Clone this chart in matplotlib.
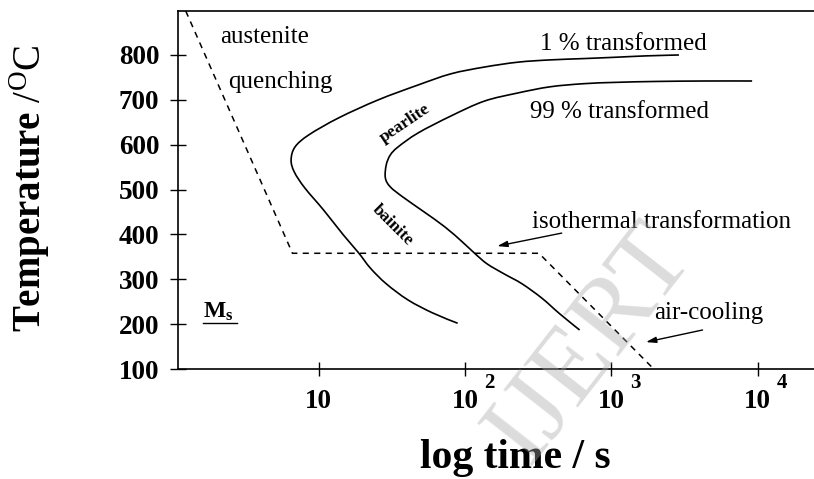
import matplotlib
matplotlib.use("Agg")
import matplotlib.pyplot as plt
import numpy as np
from matplotlib.path import Path
from matplotlib.patches import PathPatch

plt.rcParams["font.family"] = ["Liberation Serif", "DejaVu Serif"]
plt.rcParams["mathtext.fontset"] = "custom"
plt.rcParams["mathtext.rm"] = "Liberation Serif"
plt.rcParams["mathtext.bf"] = "Liberation Serif:bold"
plt.rcParams["mathtext.it"] = "Liberation Serif:italic"

# 1 % transformed curve (time in s, temperature in degC)
start_t = [89, 60, 40.7, 28.9, 22.5, 18.7, 14.7, 10.8, 8.0, 6.8, 6.46,
           6.87, 8.55, 13.7, 25.5, 47.6, 80, 135, 230, 380, 650, 1080,
           1730, 2900]
start_T = [202, 225, 254, 290, 325, 359, 399, 454, 504, 539, 566,
           595, 622, 660, 700, 733, 758, 773, 784, 789, 792, 795,
           798, 800]

# 99 % transformed curve
finish_t = [607, 444, 335, 245, 185, 142, 118, 96, 72.6, 51.5, 37.7,
            30.8, 28.5, 28.9, 30.8, 34.8, 47.6, 80, 135, 227, 380, 646,
            1081, 2018, 4400, 9180]
finish_T = [187, 223, 258, 290, 312, 334, 356, 383, 417, 452, 483,
            506, 526, 555, 577, 595, 626, 664, 697, 715, 729, 736,
            739, 741, 742, 742]

# quench -> isothermal hold -> air cooling path
path_t = [1.23, 6.6, 320, 1950]
path_T = [898, 358, 358, 100]

tick_t = [10, 100, 1000, 10000]
tick_exp = ["", "2", "3", "4"]
temp_ticks = [100, 200, 300, 400, 500, 600, 700, 800]


def smooth_curve(ax, t, T, **kw):
    """Draw a Catmull-Rom style bezier through the points (log-time space)."""
    x = np.log10(np.asarray(t, float))
    y = np.asarray(T, float) / 400.0  # rough aspect balance for tangents
    pts = np.column_stack([x, y])
    verts = [pts[0]]
    codes = [Path.MOVETO]
    n = len(pts)
    for i in range(n - 1):
        p0 = pts[max(i - 1, 0)]
        p1 = pts[i]
        p2 = pts[i + 1]
        p3 = pts[min(i + 2, n - 1)]
        c1 = p1 + (p2 - p0) / 6.0
        c2 = p2 - (p3 - p1) / 6.0
        verts += [c1, c2, p2]
        codes += [Path.CURVE4] * 3
    verts = np.array(verts)
    verts = np.column_stack([10 ** verts[:, 0], verts[:, 1] * 400.0])
    ax.add_patch(PathPatch(Path(verts, codes), fill=False,
                           transform=ax.transData, **kw))


fig = plt.figure(figsize=(8.14, 4.79), dpi=100)
ax = fig.add_axes([0.2187, 0.2296, 0.7813, 0.7474])
ax.set_xscale("log")
ax.set_xlim(10 ** 0.037, 10 ** 4.386)
ax.set_ylim(100, 898)

smooth_curve(ax, start_t, start_T, edgecolor="black", lw=1.2)
smooth_curve(ax, finish_t, finish_T, edgecolor="black", lw=1.2)
ax.plot(path_t, path_T, color="black", lw=1.1, ls=(0, (4, 3.5)))

for side in ["left", "bottom", "top"]:
    ax.spines[side].set_linewidth(1.2)
ax.spines["right"].set_visible(False)

ax.set_yticks(temp_ticks)
ax.set_yticklabels([str(v) for v in temp_ticks], fontweight="bold", fontsize=19.5)
ax.tick_params(axis="y", direction="inout", length=12.2, width=1.0, pad=7.5)

ax.set_xticks(tick_t)
ax.set_xticklabels(["10"] * len(tick_t), fontweight="bold", fontsize=19.5)
ax.minorticks_off()
ax.tick_params(axis="x", direction="inout", length=9.4, width=1.0, pad=10)
for t, e in zip(tick_t, tick_exp):
    if e:
        ax.annotate(e, xy=(t, 0), xycoords=("data", "axes fraction"),
                    xytext=(24, -14), textcoords="offset pixels",
                    ha="center", va="center", fontsize=15, fontweight="bold")

txt = dict(fontsize=18, va="center", ha="left")
ax.text(2.1, 840, "austenite", **txt)
ax.text(2.38, 740, "quenching", **txt)
ax.text(325, 824, "1 % transformed", **txt)
ax.text(278, 673, "99 % transformed", **txt)
ax.text(287, 428, "isothermal transformation", **txt)
ax.text(1950, 225, "air-cooling", **txt)
ax.text(39, 648, "pearlite", fontsize=12.5, fontweight="bold",
        rotation=34, ha="center", va="center")
ax.text(32, 421, "bainite", fontsize=12.5, fontweight="bold",
        rotation=-45, ha="center", va="center")

# martensite start marker with underline
ax.text(1.61, 228, r"$\mathbf{M_s}$", fontsize=17, ha="left", va="center")
ax.plot([0.04, 0.0935], [0.128, 0.128], transform=ax.transAxes,
        color="black", lw=1.0, clip_on=False)

arrow = dict(arrowstyle="-|>,head_length=0.6,head_width=0.18",
             color="black", lw=1.0, shrinkA=0, shrinkB=0)
ax.annotate("", xy=(166, 374), xytext=(458, 403), arrowprops=arrow)
ax.annotate("", xy=(1726, 160), xytext=(4207, 187), arrowprops=arrow)

fig.text(0.037, 0.6075, r"$\mathbf{Temperature}$ /$^{\mathrm{O}}$C",
         rotation=90, fontsize=28, ha="center", va="center")
fig.text(0.633, 0.044, "log time / s", fontsize=30, fontweight="bold",
         ha="center", va="center")

fig.text(0.726, 0.28, "IJERT", fontsize=76, rotation=52, color="#a8a8a8",
         alpha=0.4, ha="center", va="center", zorder=10)

fig.savefig("out.png", dpi=100)
